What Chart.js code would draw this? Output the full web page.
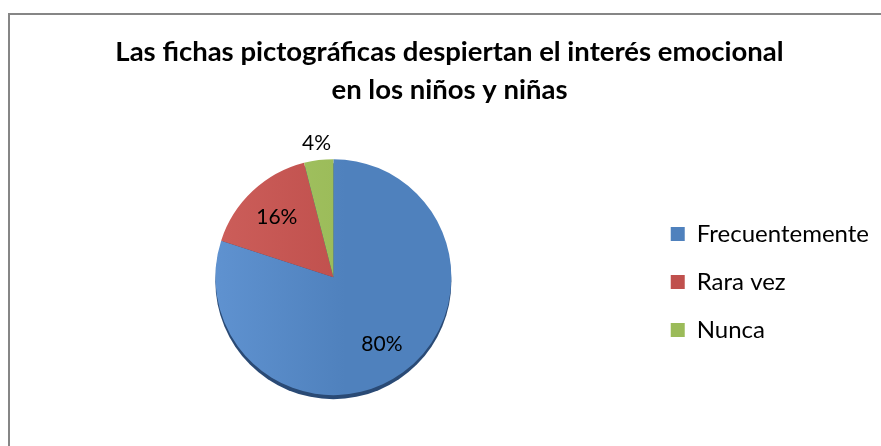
<!DOCTYPE html>
<html>
<head>
<meta charset="utf-8">
<script src="https://cdn.jsdelivr.net/npm/chart.js@4.4.1/dist/chart.umd.min.js"></script>
<style>
  html, body { margin: 0; padding: 0; background: #fff; overflow: hidden; }
  #wrap { position: relative; width: 881px; height: 446px; overflow: hidden; }
  #frame { position: absolute; left: 8px; top: 13px; width: 1000px; height: 1000px; border: 2px solid #868686; box-sizing: border-box; }
  #chart { position: absolute; left: 0; top: 0; }
</style>
</head>
<body>
<div id="wrap">
  <div id="frame"></div>
  <canvas id="chart" width="879" height="446"></canvas>
</div>
<script>
// Data
const labels = ['Frecuentemente', 'Rara vez', 'Nunca'];
const values = [80, 16, 4];
const colors = ['#4f81bd', '#c0504d', '#9bbb59'];
const lightColors = ['#5f92d0', '#cc5e5a', '#a6c766'];
const titleLines = ['Las fichas pictográficas despiertan el interés emocional', 'en los niños y niñas'];

const fontFamily = "Lato, 'Noto Sans', sans-serif";

// soft left-to-right shading like the office pie
function sliceFill(context) {
  const i = context.dataIndex;
  const chart = context.chart;
  const area = chart.chartArea;
  if (!area || context.type !== 'data') return colors[i];
  const cx = (area.left + area.right) / 2;
  const g = chart.ctx.createLinearGradient(cx - 118, 0, cx + 118, 0);
  g.addColorStop(0, lightColors[i]);
  g.addColorStop(0.55, colors[i]);
  g.addColorStop(1, colors[i]);
  return g;
}

// shadow rim under the pie
const rimPlugin = {
  id: 'rim',
  beforeDatasetsDraw(chart) {
    const arc = chart.getDatasetMeta(0).data[0];
    if (!arc) return;
    const ctx = chart.ctx;
    ctx.save();
    ctx.fillStyle = '#2a4a75';
    ctx.beginPath();
    ctx.arc(arc.x, arc.y + 4, arc.outerRadius, 0, Math.PI * 2);
    ctx.fill();
    ctx.restore();
  }
};

// percentage labels
const pctPlugin = {
  id: 'pct',
  afterDatasetsDraw(chart) {
    const ctx = chart.ctx;
    const meta = chart.getDatasetMeta(0);
    const total = values.reduce((a, b) => a + b, 0);
    ctx.save();
    ctx.font = '21px ' + fontFamily;
    ctx.fillStyle = '#000';
    ctx.textAlign = 'center';
    ctx.textBaseline = 'middle';
    meta.data.forEach((arc, i) => {
      const p = arc.getProps(['x', 'y', 'startAngle', 'endAngle', 'outerRadius'], true);
      const mid = (p.startAngle + p.endAngle) / 2;
      const share = values[i] / total;
      const r = share < 0.08 ? p.outerRadius * 1.14 : p.outerRadius * 0.7;
      ctx.fillText(Math.round(share * 100) + '%', p.x + Math.cos(mid) * r, p.y + Math.sin(mid) * r);
    });
    ctx.restore();
  }
};

new Chart(document.getElementById('chart'), {
  type: 'pie',
  data: {
    labels: labels,
    datasets: [{
      data: values,
      backgroundColor: sliceFill,
      borderWidth: 0,
      radius: 118
    }]
  },
  options: {
    responsive: false,
    animation: false,
    layout: { padding: { left: 20, right: 0, top: 0, bottom: 0 } },
    plugins: {
      title: {
        display: true,
        text: titleLines,
        color: '#000',
        font: { family: fontFamily, size: 27.5, weight: 'bold', lineHeight: 1.35 },
        padding: { top: 34, bottom: 0 }
      },
      legend: {
        position: 'right',
        title: { display: true, text: ' ', font: { size: 10 }, padding: { top: 53, bottom: 53 } },
        labels: {
          color: '#000',
          font: { family: fontFamily, size: 24 },
          boxWidth: 14,
          boxHeight: 14,
          padding: 24,
          generateLabels(chart) {
            return labels.map((text, i) => ({
              text: text,
              fillStyle: colors[i],
              strokeStyle: colors[i],
              lineWidth: 0,
              fontColor: '#000',
              index: i,
              hidden: false
            }));
          }
        }
      },
      tooltip: { enabled: false }
    }
  },
  plugins: [rimPlugin, pctPlugin]
});
</script>
</body>
</html>
